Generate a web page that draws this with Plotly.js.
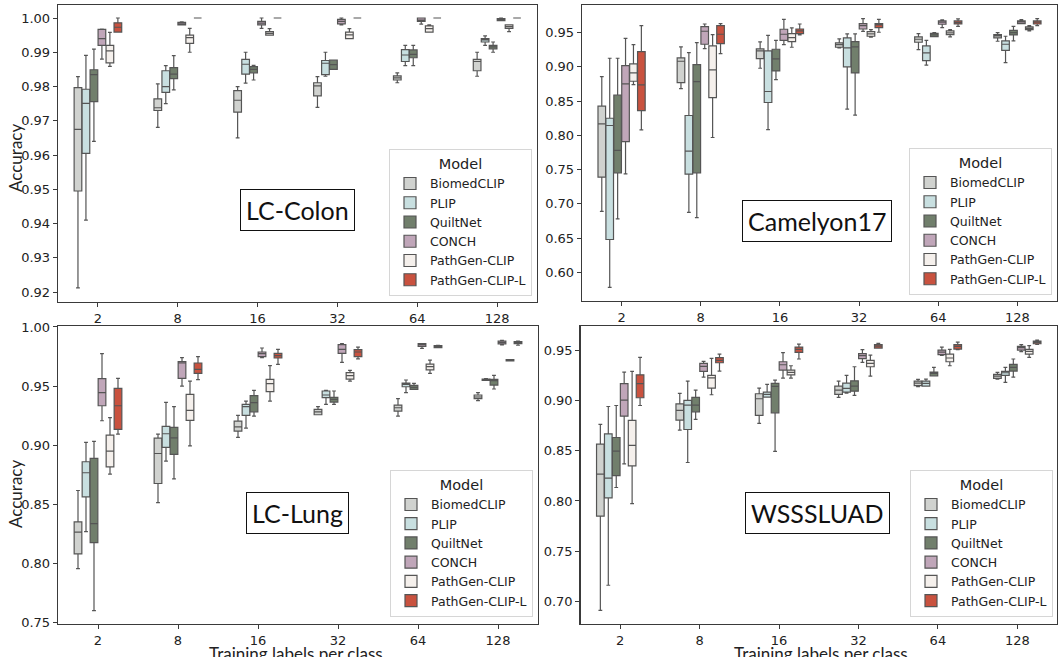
<!DOCTYPE html>
<html>
<head>
<meta charset="utf-8">
<script src="https://cdn.plot.ly/plotly-3.0.1.min.js"></script>
<style>
html,body{margin:0;padding:0;background:#fff;}
#chart{width:1058px;height:657px;}
</style>
</head>
<body>
<div id="chart"></div>
<script>
// Categories and models
const categories = ["2", "8", "16", "32", "64", "128"];
const models = ["BiomedCLIP", "PLIP", "QuiltNet", "CONCH", "PathGen-CLIP", "PathGen-CLIP-L"];
const modelColors = ["#d0d2cf", "#c8dfe0", "#717f6c", "#c0a6b9", "#f5f0ec", "#c9523f"];
const panelNames = ["LC-Colon", "Camelyon17", "LC-Lung", "WSSSLUAD"];

// Each row: [lower whisker, Q1, median, Q3, upper whisker] per category (2, 8, 16, 32, 64, 128)
// ---- LC-Colon ----
const colon_BiomedCLIP = [[0.9212,0.9495,0.9675,0.9797,0.9829],[0.9681,0.973,0.9738,0.9764,0.9808],[0.965,0.9725,0.976,0.9788,0.98],[0.9739,0.9773,0.9802,0.9811,0.9829],[0.9811,0.9819,0.9825,0.9831,0.984],[0.983,0.9846,0.9873,0.9879,0.99]];
const colon_PLIP = [[0.941,0.9605,0.9751,0.9792,0.9891],[0.975,0.9783,0.98,0.9846,0.9861],[0.981,0.9836,0.9865,0.9879,0.99],[0.983,0.9835,0.9868,0.9876,0.99],[0.9861,0.9873,0.9892,0.9908,0.992],[0.992,0.993,0.9936,0.994,0.9948]];
const colon_QuiltNet = [[0.964,0.9756,0.9835,0.9849,0.9909],[0.979,0.9823,0.9836,0.9855,0.989],[0.9819,0.984,0.985,0.9858,0.9862],[0.985,0.985,0.9864,0.9877,0.9877],[0.9861,0.9884,0.9894,0.9907,0.992],[0.99,0.991,0.9916,0.992,0.993]];
const colon_CONCH = [[0.988,0.992,0.994,0.9967,0.9968],[0.998,0.998,0.9983,0.9987,0.9989],[0.997,0.998,0.9985,0.999,1.0],[0.998,0.9983,0.999,0.9996,1.0],[0.9982,0.999,0.9994,1.0,1.0],[0.9992,0.9992,0.9995,0.9998,1.0]];
const colon_PathGenCLIP = [[0.9859,0.9869,0.9904,0.992,0.9958],[0.99,0.9926,0.9943,0.995,0.997],[0.995,0.995,0.9955,0.996,0.9969],[0.994,0.994,0.9951,0.9959,0.9969],[0.9959,0.9959,0.9969,0.9977,0.998],[0.996,0.997,0.9975,0.998,0.998]];
const colon_PathGenCLIPL = [[0.9959,0.9959,0.9973,0.9986,1.0],[1,1,1,1,1],[1,1,1,1,1],[1,1,1,1,1],[1,1,1,1,1],[1,1,1,1,1]];

// ---- Camelyon17 ----
const cam_BiomedCLIP = [[0.689,0.739,0.8168,0.8426,0.8858],[0.8683,0.8771,0.9082,0.913,0.9291],[0.898,0.9121,0.9233,0.9262,0.9364],[0.9276,0.9286,0.9325,0.9349,0.9408],[0.9252,0.9359,0.9403,0.9437,0.9485],[0.9374,0.9422,0.9451,0.9471,0.95]];
const cam_PLIP = [[0.578,0.648,0.8144,0.825,0.9126],[0.6875,0.7434,0.7769,0.829,0.9208],[0.8085,0.848,0.864,0.9233,0.946],[0.8382,0.9,0.9276,0.9422,0.9481],[0.9024,0.9092,0.9203,0.9306,0.9388],[0.9063,0.9242,0.933,0.9378,0.9447]];
const cam_QuiltNet = [[0.678,0.7453,0.778,0.8586,0.9126],[0.68,0.7453,0.8785,0.9033,0.9354],[0.8815,0.8941,0.9116,0.9257,0.9388],[0.8294,0.8912,0.9291,0.9369,0.9481],[0.9442,0.9442,0.9466,0.949,0.95],[0.9378,0.9466,0.95,0.9534,0.9592]];
const cam_CONCH = [[0.7439,0.791,0.8751,0.9019,0.9417],[0.9267,0.933,0.952,0.9588,0.9626],[0.9325,0.9388,0.9476,0.9549,0.9694],[0.9519,0.9553,0.9602,0.9631,0.9704],[0.9573,0.9622,0.9651,0.967,0.9685],[0.9631,0.9631,0.9656,0.967,0.969]];
const cam_PathGenCLIP = [[0.8742,0.879,0.8912,0.9043,0.9325],[0.7969,0.8552,0.8956,0.9306,0.9471],[0.9286,0.9369,0.9427,0.9485,0.9568],[0.9432,0.9447,0.9481,0.9515,0.9544],[0.9437,0.9471,0.9495,0.9524,0.9544],[0.9524,0.9544,0.9563,0.9583,0.9602]];
const cam_PathGenCLIPL = [[0.808,0.8362,0.8737,0.9223,0.9602],[0.9194,0.934,0.9476,0.9602,0.9631],[0.9466,0.9485,0.9524,0.9553,0.9626],[0.9505,0.9573,0.9612,0.9631,0.9694],[0.9592,0.9626,0.9646,0.967,0.9699],[0.9602,0.9626,0.9651,0.967,0.9704]];

// ---- LC-Lung ----
const lung_BiomedCLIP = [[0.7955,0.8079,0.8263,0.835,0.8616],[0.8514,0.8675,0.8929,0.9059,0.9093],[0.9065,0.9119,0.9155,0.9203,0.9251],[0.9257,0.9257,0.9282,0.9302,0.9325],[0.9246,0.9288,0.9316,0.9339,0.9393],[0.9376,0.9393,0.9407,0.9424,0.9444]];
const lung_PLIP = [[0.8268,0.8562,0.8766,0.8859,0.9023],[0.8864,0.898,0.9096,0.9158,0.9362],[0.9144,0.9251,0.9325,0.9345,0.9373],[0.9345,0.9401,0.9424,0.9458,0.9463],[0.9444,0.9494,0.9514,0.9525,0.9551],[0.9548,0.9548,0.9554,0.9559,0.9562]];
const lung_QuiltNet = [[0.7599,0.8175,0.8336,0.8887,0.9031],[0.8715,0.8921,0.9062,0.915,0.9325],[0.9246,0.9282,0.9359,0.9418,0.9463],[0.9345,0.9364,0.9387,0.9404,0.9458],[0.9472,0.9472,0.9489,0.9506,0.9523],[0.9475,0.9508,0.9545,0.9556,0.959]];
const lung_CONCH = [[0.9206,0.9333,0.9444,0.9562,0.9774],[0.95,0.9565,0.9695,0.9706,0.974],[0.974,0.9749,0.9774,0.9788,0.9822],[0.9701,0.9777,0.9811,0.985,0.9859],[0.9819,0.9836,0.985,0.9859,0.9859],[0.9847,0.9856,0.987,0.9881,0.9887]];
const lung_PathGenCLIP = [[0.8754,0.8816,0.8949,0.9085,0.9232],[0.8994,0.9209,0.9294,0.9429,0.9542],[0.9373,0.9452,0.952,0.9556,0.9672],[0.9542,0.9559,0.9588,0.9613,0.9633],[0.9607,0.9636,0.9664,0.9686,0.972],[0.9712,0.9712,0.9718,0.9723,0.9723]];
const lung_PathGenCLIPL = [[0.9093,0.9133,0.9333,0.948,0.9565],[0.9554,0.9607,0.9641,0.9695,0.9749],[0.9684,0.9737,0.9757,0.9777,0.9811],[0.9729,0.9749,0.9788,0.9808,0.983],[0.9825,0.9825,0.9833,0.9842,0.9845],[0.9845,0.9859,0.9867,0.9876,0.9881]];

// ---- WSSSLUAD ----
const wsss_BiomedCLIP = [[0.691,0.7848,0.8267,0.8566,0.8762],[0.8705,0.8805,0.8902,0.8968,0.9071],[0.8772,0.8852,0.9018,0.9068,0.9124],[0.9031,0.9061,0.9104,0.9144,0.9194],[0.9138,0.9148,0.9174,0.9194,0.9211],[0.9214,0.9221,0.9244,0.9261,0.9281]];
const wsss_PLIP = [[0.716,0.8031,0.8227,0.8669,0.8941],[0.8383,0.8712,0.8955,0.9001,0.9194],[0.9035,0.9035,0.9061,0.9084,0.9161],[0.9074,0.9084,0.9121,0.9174,0.9251],[0.9144,0.9144,0.9171,0.9194,0.9214],[0.9181,0.9251,0.9277,0.929,0.933]];
const wsss_QuiltNet = [[0.8134,0.8253,0.8496,0.8632,0.8951],[0.8812,0.8888,0.8955,0.9031,0.9104],[0.8493,0.8878,0.9141,0.9171,0.9204],[0.9051,0.9094,0.9144,0.9197,0.9337],[0.9247,0.9247,0.9271,0.9284,0.933],[0.9234,0.9294,0.933,0.936,0.9414]];
const wsss_CONCH = [[0.837,0.8845,0.9005,0.9168,0.9284],[0.9234,0.9291,0.934,0.937,0.939],[0.9224,0.9304,0.9357,0.9387,0.9477],[0.938,0.9417,0.9447,0.9467,0.9507],[0.945,0.9457,0.9483,0.9503,0.9533],[0.9487,0.9503,0.9527,0.954,0.9557]];
const wsss_PathGenCLIP = [[0.7974,0.835,0.8553,0.8802,0.9291],[0.9058,0.9124,0.9227,0.9251,0.942],[0.9224,0.9257,0.9281,0.9304,0.9347],[0.9244,0.9337,0.937,0.94,0.9453],[0.9347,0.9387,0.9424,0.9463,0.951],[0.943,0.9463,0.949,0.951,0.9547]];
const wsss_PathGenCLIPL = [[0.8951,0.9028,0.9168,0.9257,0.943],[0.9294,0.9377,0.94,0.9427,0.9463],[0.9414,0.948,0.951,0.9533,0.9563],[0.9523,0.9523,0.9543,0.9557,0.957],[0.9507,0.9513,0.954,0.9557,0.9583],[0.956,0.9566,0.958,0.9593,0.9603]];

const panelData = [
  [colon_BiomedCLIP, colon_PLIP, colon_QuiltNet, colon_CONCH, colon_PathGenCLIP, colon_PathGenCLIPL],
  [cam_BiomedCLIP, cam_PLIP, cam_QuiltNet, cam_CONCH, cam_PathGenCLIP, cam_PathGenCLIPL],
  [lung_BiomedCLIP, lung_PLIP, lung_QuiltNet, lung_CONCH, lung_PathGenCLIP, lung_PathGenCLIPL],
  [wsss_BiomedCLIP, wsss_PLIP, wsss_QuiltNet, wsss_CONCH, wsss_PathGenCLIP, wsss_PathGenCLIPL]
];

// Layout geometry (pixels)
const W = 1058, H = 657;
const panels = [
  {x0: 58, x1: 537, y0: 5, y1: 302, yr: [0.9171, 1.0038], tick0: 0.92, dtick: 0.01, label: [297, 210], legend: [532, 296]},
  {x0: 582, x1: 1057, y0: 5, y1: 301, yr: [0.5582, 0.9903], tick0: 0.60, dtick: 0.05, label: [817, 221], legend: [1052, 295]},
  {x0: 58, x1: 538, y0: 326, y1: 624, yr: [0.7486, 1.0008], tick0: 0.75, dtick: 0.05, label: [297, 513], legend: [533, 617]},
  {x0: 580.5, x1: 1057, y0: 326, y1: 624, yr: [0.6774, 0.9743], tick0: 0.70, dtick: 0.05, label: [817, 513], legend: [1053, 617]}
];

const px = v => v / W;
const py = v => 1 - v / H;

const traces = [];
const layout = {
  width: W, height: H,
  margin: {l: 0, r: 0, t: 0, b: 0},
  paper_bgcolor: "#ffffff",
  plot_bgcolor: "#ffffff",
  boxmode: "group",
  boxgap: 0.4,
  boxgroupgap: 0.04,
  font: {family: "DejaVu Sans", size: 13, color: "#222"},
  annotations: [],
  showlegend: true
};

const tickFont = {family: "DejaVu Sans", size: 13, color: "#222"};

panels.forEach((p, i) => {
  const n = i === 0 ? "" : String(i + 1);
  const xa = "x" + n, ya = "y" + n, lg = "legend" + n;
  panelData[i].forEach((rows, m) => {
    traces.push({
      type: "box",
      name: models[m],
      x: categories,
      lowerfence: rows.map(r => r[0]),
      q1: rows.map(r => r[1]),
      median: rows.map(r => r[2]),
      q3: rows.map(r => r[3]),
      upperfence: rows.map(r => r[4]),
      xaxis: xa, yaxis: ya,
      legend: lg,
      offsetgroup: models[m],
      alignmentgroup: "panel" + i,
      fillcolor: modelColors[m],
      line: {color: "#555555", width: 1.2},
      whiskerwidth: 0.5,
      boxpoints: false,
      hoverinfo: "y"
    });
  });
  layout["xaxis" + n] = {
    domain: [px(p.x0), px(p.x1)],
    anchor: ya,
    type: "category",
    range: [-0.5, 5.5],
    showline: true, mirror: true, linecolor: "#3a3a3a", linewidth: 1.3,
    ticks: "outside", ticklen: 4, tickcolor: "#3a3a3a", tickwidth: 1,
    showgrid: false, zeroline: false,
    tickfont: tickFont
  };
  layout["yaxis" + n] = {
    domain: [py(p.y1), py(p.y0)],
    anchor: xa,
    range: p.yr,
    tick0: p.tick0, dtick: p.dtick, tickformat: ".2f",
    showline: true, mirror: true, linecolor: "#3a3a3a", linewidth: 1.3,
    ticks: "outside", ticklen: 4, tickcolor: "#3a3a3a", tickwidth: 1,
    showgrid: false, zeroline: false,
    tickfont: tickFont
  };
  layout[lg] = {
    x: px(p.legend[0]), y: py(p.legend[1]),
    xanchor: "right", yanchor: "bottom",
    xref: "paper", yref: "paper",
    bgcolor: "rgba(255,255,255,0.85)",
    bordercolor: "#d6d6d6", borderwidth: 1,
    font: {family: "DejaVu Sans", size: 12.5, color: "#222"},
    title: {text: "Model", side: "top center", font: {family: "DejaVu Sans", size: 14.5, color: "#222"}},
    tracegroupgap: 0,
    itemwidth: 30
  };
  layout.annotations.push({
    xref: "paper", yref: "paper",
    x: px(p.label[0]), y: py(p.label[1]),
    xanchor: "center", yanchor: "middle",
    text: panelNames[i], showarrow: false,
    font: {family: "Lato", size: 25, color: "#111"},
    bordercolor: "#111", borderwidth: 1, borderpad: 5,
    bgcolor: "#ffffff"
  });
});

// Axis titles (placed as annotations to match the stitched layout)
layout.annotations.push(
  {xref: "paper", yref: "paper", x: px(15), y: py(158), text: "Accuracy", textangle: -90, showarrow: false,
   xanchor: "center", yanchor: "middle", font: {family: "Lato", size: 17, color: "#222"}},
  {xref: "paper", yref: "paper", x: px(15), y: py(494), text: "Accuracy", textangle: -90, showarrow: false,
   xanchor: "center", yanchor: "middle", font: {family: "Lato", size: 17, color: "#222"}},
  {xref: "paper", yref: "paper", x: px(296), y: py(641), text: "Training labels per class", showarrow: false,
   xanchor: "center", yanchor: "top", font: {family: "Lato", size: 17, color: "#222"}},
  {xref: "paper", yref: "paper", x: px(821), y: py(641), text: "Training labels per class", showarrow: false,
   xanchor: "center", yanchor: "top", font: {family: "Lato", size: 17, color: "#222"}}
);

Plotly.newPlot("chart", traces, layout, {displayModeBar: false, staticPlot: true});
</script>
</body>
</html>
